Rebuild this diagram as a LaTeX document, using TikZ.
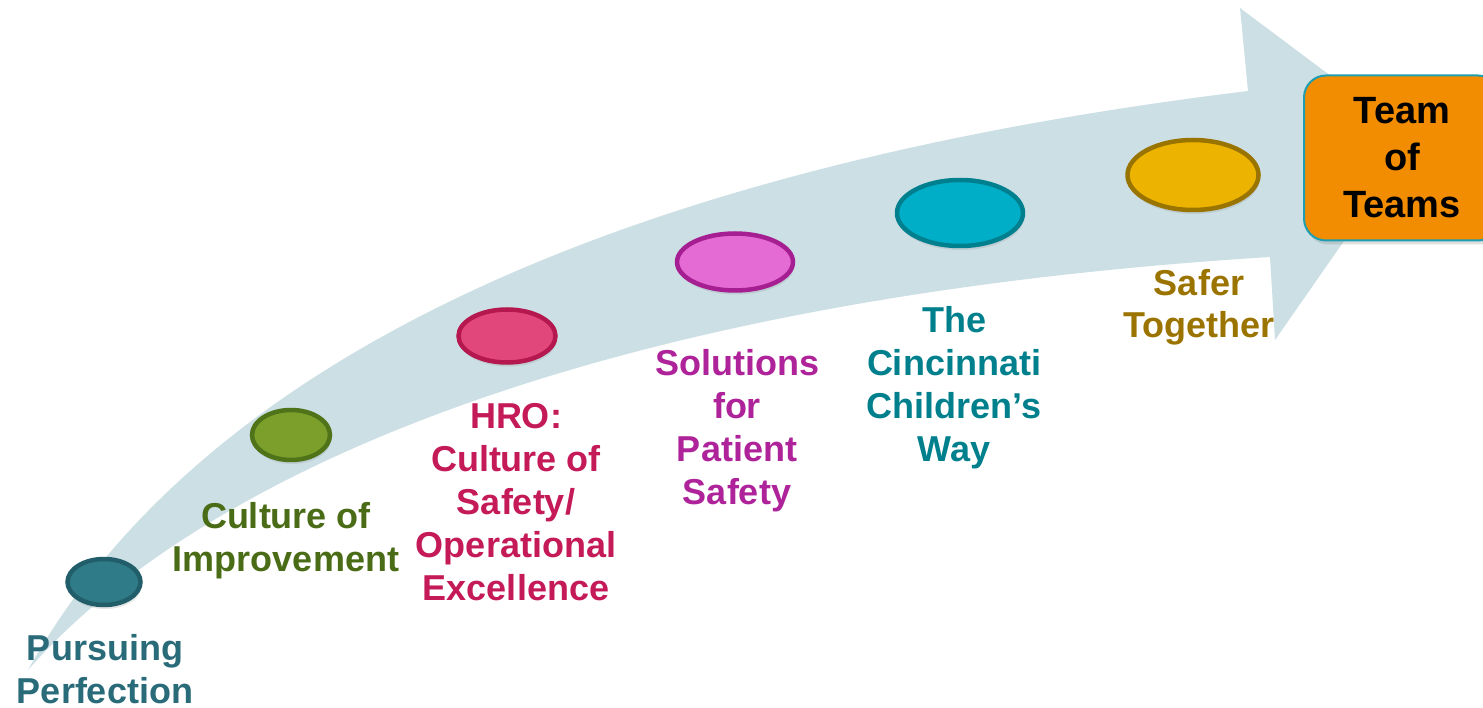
\documentclass[tikz,border=0pt]{standalone}
\usepackage{fontspec}
\setmainfont{Liberation Sans}
\usepackage{tikz}
\usetikzlibrary{shapes.geometric}
\usetikzlibrary{shadows}

\definecolor{trackblue}{HTML}{CCDFE5}
\definecolor{pursuefill}{HTML}{2F7B87}
\definecolor{pursuedraw}{HTML}{215E69}
\definecolor{pursuetext}{HTML}{2A6B7A}
\definecolor{improvefill}{HTML}{7B9F2A}
\definecolor{improvedraw}{HTML}{4F7318}
\definecolor{improvetext}{HTML}{4B6C16}
\definecolor{hrofill}{HTML}{E1477A}
\definecolor{hrodraw}{HTML}{B4184E}
\definecolor{hrotext}{HTML}{C41A57}
\definecolor{solfill}{HTML}{E46AD4}
\definecolor{soldraw}{HTML}{A51E92}
\definecolor{soltext}{HTML}{AE2399}
\definecolor{wayfill}{HTML}{00AEC7}
\definecolor{waydraw}{HTML}{00808F}
\definecolor{waytext}{HTML}{007F8C}
\definecolor{saferfill}{HTML}{ECB400}
\definecolor{saferdraw}{HTML}{9A7400}
\definecolor{safertext}{HTML}{9B7400}
\definecolor{goalfill}{HTML}{F28C00}
\definecolor{goaldraw}{HTML}{1E9EB0}

\begin{document}
\begin{tikzpicture}[x=1pt, y=-1pt,
		stagedot/.style={ellipse, inner sep=0pt, line width=4.5pt, drop shadow={shadow xshift=1pt, shadow yshift=-4pt, opacity=0.2}},
		stagetext/.style={font=\fontsize{36}{43}\selectfont\bfseries, align=center, anchor=base},
		goalbox/.style={rectangle, rounded corners=22pt, fill=goalfill, draw=goaldraw, line width=2pt, minimum width=196pt, minimum height=165pt, align=center, font=\fontsize{38}{47}\selectfont\bfseries, drop shadow={shadow xshift=2pt, shadow yshift=-4pt, opacity=0.25}}]
		\useasboundingbox (0,0) rectangle (1483,708);
		% sweeping arrow behind the stages
		\fill [trackblue] (28,670) .. controls (195,370) and (600,170) .. (1248,91) -- (1240,8) -- (1415,139) -- (1275,340) -- (1270,257) .. controls (580,300) and (195,480) .. (28,670) -- cycle;

		% labels are placed by the baseline of their last line
		\node [stagedot, fill=pursuefill, draw=pursuedraw, minimum width=73pt, minimum height=46pt] at (104,582) (pursuedot) {};
		\node [stagetext, text=pursuetext] at (105,703) (pursue) {Pursuing\\Perfection};

		\node [stagedot, fill=improvefill, draw=improvedraw, minimum width=78pt, minimum height=50pt] at (291,435) (improvedot) {};
		\node [stagetext, text=improvetext] at (286,571) (improve) {Culture of\\Improvement};

		\node [stagedot, fill=hrofill, draw=hrodraw, minimum width=97pt, minimum height=53pt] at (507,336) (hrodot) {};
		\node [stagetext, text=hrotext] at (516,600) (hro) {HRO:\\Culture of\\Safety/\\Operational\\Excellence};

		\node [stagedot, fill=solfill, draw=soldraw, minimum width=116pt, minimum height=57pt] at (735,262) (soldot) {};
		\node [stagetext, text=soltext] at (737,504) (sol) {Solutions\\for\\Patient\\Safety};

		\node [stagedot, fill=wayfill, draw=waydraw, minimum width=126pt, minimum height=66pt] at (960,213) (waydot) {};
		\node [stagetext, text=waytext] at (954,461) (way) {The\\Cincinnati\\Children’s\\Way};

		\node [stagedot, fill=saferfill, draw=saferdraw, minimum width=131pt, minimum height=70pt] at (1193,175) (saferdot) {};
		\node [stagetext, text=safertext] at (1199,338) (safer) {Safer\\Together};

		\node [goalbox] at (1402,158) (teams) {Team\\of\\Teams};
\end{tikzpicture}
\end{document}
